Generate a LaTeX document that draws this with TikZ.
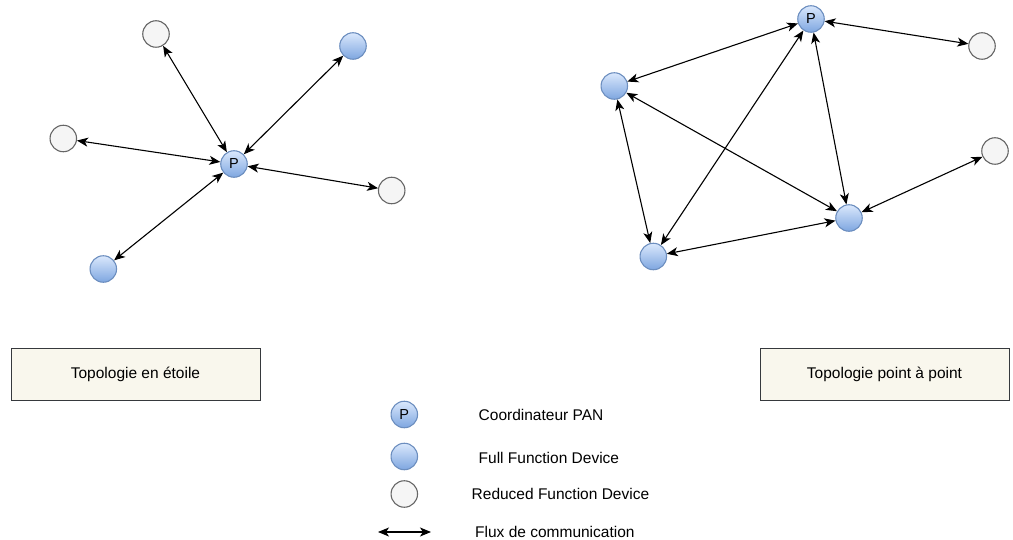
\documentclass[tikz,border=0pt]{standalone}
\usepackage{fontspec}
\setmainfont{Liberation Sans}
\usetikzlibrary{arrows.meta}
\definecolor{ffdtop}{HTML}{DAE8FC}
\definecolor{ffdbot}{HTML}{7EA6E0}
\definecolor{ffdline}{HTML}{6C8EBF}
\definecolor{rfdfill}{HTML}{F5F5F5}
\definecolor{rfdline}{HTML}{666666}
\definecolor{boxfill}{HTML}{F9F7ED}
\definecolor{boxline}{HTML}{36393D}
\tikzset{
  ffd/.style={circle, minimum size=26.5pt, inner sep=0pt, draw=ffdline, line width=1.1pt,
    top color=ffdtop, bottom color=ffdbot, font=\fontsize{14.5}{16}\selectfont},
  rfd/.style={circle, minimum size=26.5pt, inner sep=0pt, draw=rfdline, line width=1.1pt, fill=rfdfill},
  link/.style={line width=1.1pt, {Stealth[length=11pt,width=9pt,inset=3pt]}-{Stealth[length=11pt,width=9pt,inset=3pt]}},
  titlebox/.style={draw=boxline, fill=boxfill, line width=1pt, minimum width=249pt, minimum height=52.5pt,
    inner sep=0pt, font=\fontsize{15.5}{18}\selectfont},
  legtext/.style={anchor=west, inner sep=0pt, font=\fontsize{15.5}{18}\selectfont}
}
\begin{document}
\begin{tikzpicture}[x=1pt,y=-1pt]
\useasboundingbox (0,0) rectangle (1013,540);
% star topology
\node[ffd] (sP) at (234,164) {P};
\node[rfd] (sG1) at (156,34) {};
\node[ffd] (sB1) at (353,46) {};
\node[rfd] (sG2) at (63.3,138.5) {};
\node[rfd] (sG3) at (391.7,190.5) {};
\node[ffd] (sB2) at (103.3,269) {};
\draw[link] (sG1) -- (sP);
\draw[link] (sB1) -- (sP);
\draw[link] (sG2) -- (sP);
\draw[link] (sG3) -- (sP);
\draw[link] (sB2) -- (sP);
% mesh topology
\node[ffd] (mP) at (811,19) {P};
\node[ffd] (mB1) at (614.3,86) {};
\node[rfd] (mG1) at (982,46) {};
\node[rfd] (mG2) at (995,151) {};
\node[ffd] (mB2) at (849,218) {};
\node[ffd] (mB3) at (653.3,256.5) {};
\draw[link] (mB1) -- (mP);
\draw[link] (mP) -- (mG1);
\draw[link] (mP) -- (mB2);
\draw[link] (mB3) -- (mP);
\draw[link] (mB1) -- (mB3);
\draw[link] (mB1) -- (mB2);
\draw[link] (mB2) -- (mG2);
\draw[link] (mB3) -- (mB2);
% title boxes
\node[titlebox] (tStar) at (135.5,374.5) {Topologie en étoile};
\node[titlebox] (tMesh) at (884.5,374.5) {Topologie point à point};
% legend
\node[ffd] (lP) at (404.3,414.5) {P};
\node[ffd] (lB) at (404.3,456.5) {};
\node[rfd] (lG) at (404.3,494) {};
\coordinate (lA1) at (378,532);
\coordinate (lA2) at (431,532);
\draw[link] (lA1) -- (lA2);
\node[legtext] (tP) at (478.5,415) {Coordinateur PAN};
\node[legtext] (tB) at (478.5,457.5) {Full Function Device};
\node[legtext] (tG) at (471.5,494) {Reduced Function Device};
\node[legtext] (tA) at (475,532) {Flux de communication};
\end{tikzpicture}
\end{document}
